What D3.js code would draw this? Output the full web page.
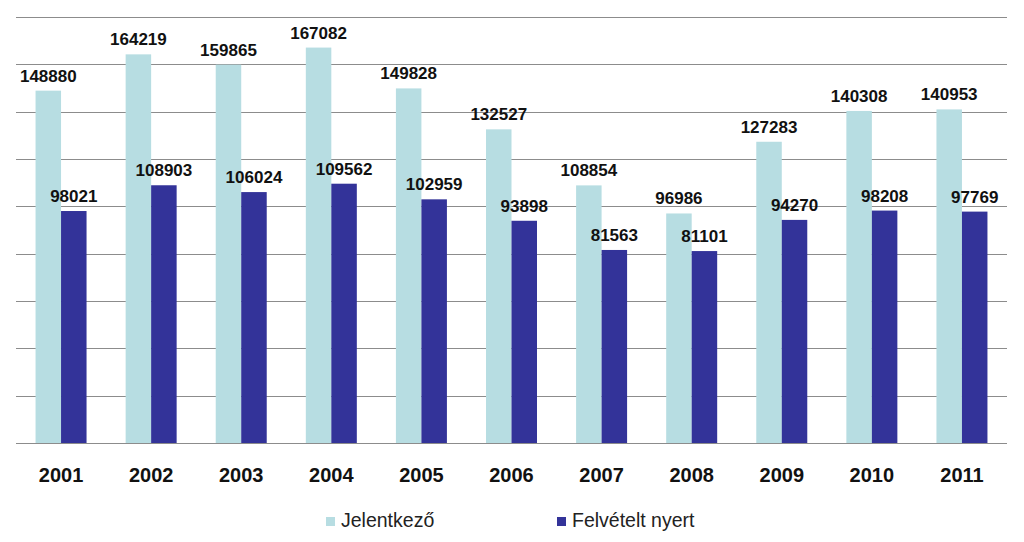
<!DOCTYPE html>
<html><head><meta charset="utf-8">
<script src="https://cdn.jsdelivr.net/npm/d3@7"></script>
<style>body{margin:0;background:#fff}svg{display:block}text{font-family:"Liberation Sans",Arial,sans-serif}</style>
</head><body>
<svg id="c" width="1024" height="542"></svg>
<script>
const years = ["2001","2002","2003","2004","2005","2006","2007","2008","2009","2010","2011"];
const jelentkezo = [148880,164219,159865,167082,149828,132527,108854,96986,127283,140308,140953];
const felveteltNyert = [98021,108903,106024,109562,102959,93898,81563,81101,94270,98208,97769];
const seriesNames = ["Jelentkező","Felvételt nyert"];
const seriesColors = ["#B7DDE2","#333399"];
const yTicks = [0,20000,40000,60000,80000,100000,120000,140000,160000,180000];

(function(){
const svg = d3.select("#c");
const mLeft = 16, mRight = 1007, mTop = 17, mBottom = 443;
const x = d3.scaleBand().domain(years).range([mLeft, mRight]).paddingInner(0).paddingOuter(0);
const y = d3.scaleLinear().domain([0,180000]).range([mBottom, mTop]);
const barW = 25.5;
const sub = d3.scaleBand().domain([0,1]).range([-barW, barW]);

svg.append("g").selectAll("line").data(yTicks).join("line")
  .attr("x1", mLeft).attr("x2", mRight)
  .attr("y1", d => Math.round(y(d)) + 0.5).attr("y2", d => Math.round(y(d)) + 0.5)
  .attr("stroke", "#8c8c8c").attr("stroke-width", 1);

const data = [jelentkezo, felveteltNyert];
data.forEach((vals, si) => {
  const g = svg.append("g");
  g.selectAll("rect").data(vals).join("rect")
    .attr("x", (d,i) => x(years[i]) + x.bandwidth()/2 + sub(si))
    .attr("width", barW)
    .attr("y", d => y(d))
    .attr("height", d => mBottom - y(d))
    .attr("fill", seriesColors[si]);
  g.selectAll("text").data(vals).join("text")
    .attr("x", (d,i) => x(years[i]) + x.bandwidth()/2 + sub(si) + barW/2)
    .attr("y", d => y(d) - 9)
    .attr("text-anchor", "middle")
    .style("font-family", '"Liberation Sans", Arial, sans-serif')
    .attr("font-weight", "bold")
    .attr("font-size", 17)
    .attr("fill", "#111")
    .text(d => d);
});

const xAxis = d3.axisBottom(x).tickSize(0).tickPadding(0);
const ax = svg.append("g").attr("transform", `translate(0,${mBottom})`).call(xAxis);
ax.select(".domain").remove();
ax.attr("font-family", null).attr("font-size", null);
ax.selectAll("text")
  .attr("y", 38.5).attr("dy", null)
  .style("font-family", '"Liberation Sans", Arial, sans-serif')
  .attr("font-weight", "bold").attr("font-size", 20).attr("fill", "#111");

const legX = [326, 557];
const leg = svg.append("g");
seriesNames.forEach((n, i) => {
  leg.append("rect").attr("x", legX[i]).attr("y", 517).attr("width", 9).attr("height", 9).attr("fill", seriesColors[i]);
  leg.append("text").attr("x", legX[i] + 15).attr("y", 527)
    .style("font-family", '"Liberation Sans", Arial, sans-serif')
    .attr("font-size", 19.5).attr("fill", "#222").text(n);
});
})();
</script>
</body></html>
